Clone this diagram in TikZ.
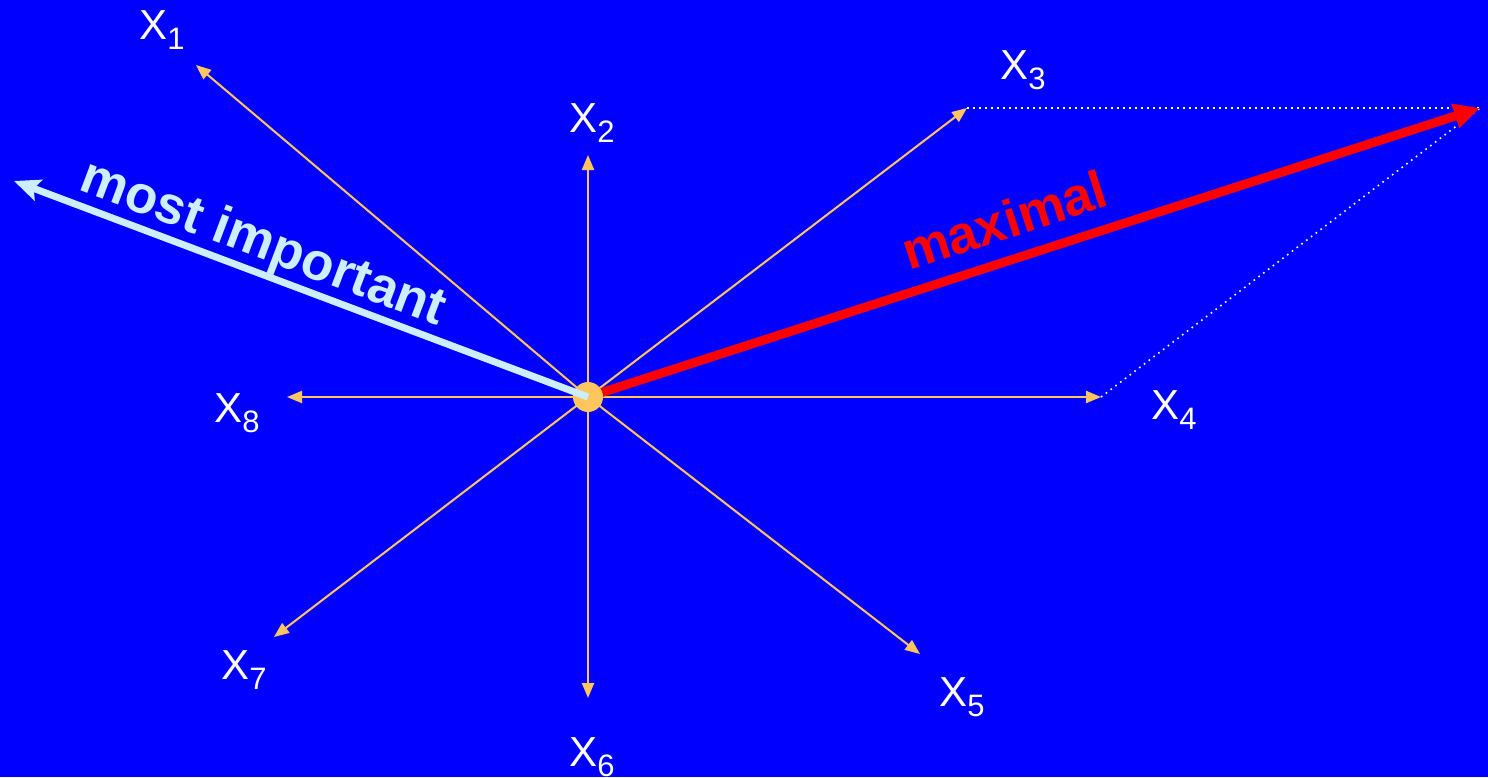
\documentclass[tikz,border=0pt]{standalone}
\usepackage{fontspec}
\setmainfont{Liberation Sans}
\usetikzlibrary{arrows.meta}
\definecolor{bg}{HTML}{0000FF}
\definecolor{orng}{HTML}{FFC65E}
\definecolor{lblue}{HTML}{CCEEFF}
\definecolor{rd}{HTML}{FF0000}
\newcommand\lab[1]{X\raisebox{-5pt}{\fontsize{15.5}{15.5}\selectfont #1}}
\tikzset{
  axis/.style={draw=orng, line width=1pt, -{Triangle[length=7.5pt,width=6pt]}},
  xlab/.style={text=white, font=\fontsize{21}{21}\selectfont, inner sep=0pt, anchor=base},
  dotline/.style={draw=white, line width=0.8pt, dash pattern=on 0.8pt off 2.2pt},
  big/.style={font=\bfseries\fontsize{26.5}{26.5}\selectfont, inner sep=0pt, anchor=base}
}
\begin{document}
\begin{tikzpicture}[x=0.5pt,y=-0.5pt]
\fill[bg] (0,0) rectangle (1488,777);
\useasboundingbox (0,0) rectangle (1488,777);
\coordinate (c) at (588,397);
\coordinate (t1) at (196,65);
\coordinate (t2) at (588,155);
\coordinate (t3) at (967,108);
\coordinate (t4) at (1101,397);
\coordinate (t5) at (920,654);
\coordinate (t6) at (588,698);
\coordinate (t7) at (274,637);
\coordinate (t8) at (287,397);
\coordinate (s) at (1480,108);
\coordinate (m) at (14,181);
\foreach \i in {1,...,8} \draw[axis] (c) -- (t\i);
\draw[dotline] (t3) -- (s);
\draw[dotline] (t4) -- (s);
\draw[draw=rd, line width=4.5pt, -{Triangle[length=13pt,width=12pt]}] (c) -- (s);
\node[circle, fill=orng, minimum size=15pt, inner sep=0pt] (dot) at (c) {};
\draw[draw=lblue, line width=3.5pt, -{Stealth[length=13pt,width=11pt,inset=2.5pt]}] (c) -- (m);
\node[xlab] (l1) at (162,39) {\lab{1}};
\node[xlab] (l2) at (592,132) {\lab{2}};
\node[xlab] (l3) at (1023,79) {\lab{3}};
\node[xlab] (l4) at (1174,419) {\lab{4}};
\node[xlab] (l5) at (962,706) {\lab{5}};
\node[xlab] (l6) at (592,766) {\lab{6}};
\node[xlab] (l7) at (244,679) {\lab{7}};
\node[xlab] (l8) at (237,422) {\lab{8}};
\node[big, text=lblue, rotate=-20.7] (mi) at (258,258) {most important};
\node[big, text=rd, rotate=17.95] (mx) at (1010,238) {maximal};
\end{tikzpicture}
\end{document}
